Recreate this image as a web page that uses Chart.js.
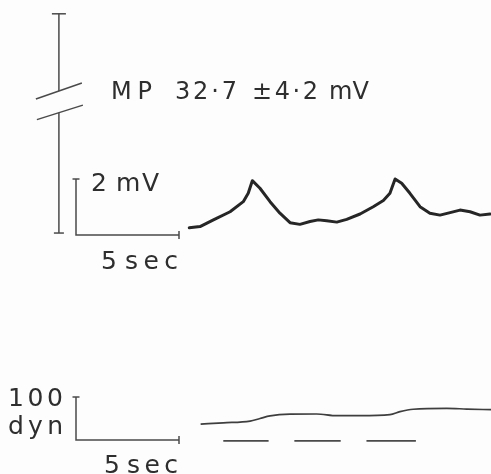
<!DOCTYPE html>
<html>
<head>
<meta charset="utf-8">
<script src="https://cdn.jsdelivr.net/npm/chart.js@4.4.0/dist/chart.umd.min.js"></script>
<style>
  html, body { margin: 0; padding: 0; background: #fdfdfd; }
  #wrap { width: 491px; height: 474px; }
</style>
</head>
<body>
<div id="wrap"><canvas id="trace" width="491" height="474"></canvas></div>
<script>
// time in sec, counted from the left end of the 5 sec scale bars
const mpTime = [5.50, 6.02, 6.67, 7.48, 8.12, 8.36, 8.56, 8.93, 9.42, 9.90, 10.39, 10.87,
  11.36, 11.76, 12.17, 12.66, 13.14, 13.79, 14.43, 14.92, 15.24, 15.49, 15.81, 16.21,
  16.70, 17.18, 17.67, 18.16, 18.64, 19.13, 19.61, 20.10];
// membrane potential, mV above the scale bar baseline
const mpValues = [0.26, 0.30, 0.54, 0.83, 1.19, 1.49, 1.94, 1.67, 1.19, 0.78, 0.44, 0.38,
  0.48, 0.54, 0.51, 0.46, 0.56, 0.75, 1.01, 1.23, 1.49, 2.00, 1.85, 1.49,
  1.01, 0.78, 0.71, 0.80, 0.89, 0.83, 0.71, 0.75];

const forceTime = [6.05, 7.15, 8.45, 8.93, 9.42, 10.39, 11.68, 12.66, 13.79, 15.24, 15.73,
  16.37, 18.00, 18.97, 20.15];
// tension, dyn
const forceValues = [37, 40, 44, 50, 56, 60, 60.5, 56.5, 56.5, 59, 66, 71.5, 73.5, 72, 70.5];

// stimulus marks under the force trace (sec)
const stimStart = [7.15, 10.6, 14.1];
const stimEnd = [9.35, 12.85, 16.5];

const scaleSec = 5;
const scaleMv = 2;
const scaleDyn = 100;

// long MP bar (mV), broken between the two break values
const mpBarTime = -0.83;
const mpBarTop = 7.9;
const mpBarBreak = [5.14, 4.37];
const mpBarBottom = 0.07;

const mpLabel = ['MP', '32·7', '±4·2', 'mV'];

// pixel mapping of the figure
const PX_SEC = 20.6, X0 = 76;
const PX_MV = 28, MV_BASE = 235;
const PX_DYN = 0.43, DYN_BASE = 440;
const W = 491, H = 474;

const stimLevel = -2;
const stimData = [];
stimStart.forEach((s, i) => {
  stimData.push({x: s, y: stimLevel});
  stimData.push({x: stimEnd[i], y: stimLevel});
  stimData.push({x: (stimEnd[i] + (stimStart[i + 1] || stimEnd[i] + 1)) / 2, y: null});
});

const ink = '#262626';
const barInk = '#4a4a4a';

function fitText(ctx, str, x0, x1, base) {
  ctx.letterSpacing = '0px';
  const w = ctx.measureText(str).width;
  const n = [...str].length;
  const sp = n > 1 ? (x1 - x0 - w) / (n - 1) : 0;
  ctx.letterSpacing = sp + 'px';
  ctx.fillText(str, x0, base);
  ctx.letterSpacing = '0px';
}

const decorations = {
  id: 'decorations',
  afterDatasetsDraw(chart) {
    const ctx = chart.ctx;
    const x = chart.scales.x, yV = chart.scales.yV, yF = chart.scales.yF;
    ctx.save();
    ctx.strokeStyle = barInk;
    ctx.lineWidth = 1.5;

    function seg(a, b, c, d) {
      ctx.beginPath();
      ctx.moveTo(a, b);
      ctx.lineTo(c, d);
      ctx.stroke();
    }

    // caps of the scale bars
    const sx0 = x.getPixelForValue(0), sx1 = x.getPixelForValue(scaleSec);
    seg(sx0 - 3.5, yV.getPixelForValue(scaleMv), sx0 + 3.5, yV.getPixelForValue(scaleMv));
    seg(sx1, yV.getPixelForValue(0) - 4, sx1, yV.getPixelForValue(0) + 4);
    seg(sx0 - 3.5, yF.getPixelForValue(scaleDyn), sx0 + 3.5, yF.getPixelForValue(scaleDyn));
    seg(sx1, yF.getPixelForValue(0) - 4, sx1, yF.getPixelForValue(0) + 4);

    // long broken MP bar
    const bx = x.getPixelForValue(mpBarTime);
    const pTop = yV.getPixelForValue(mpBarTop);
    const pB1 = yV.getPixelForValue(mpBarBreak[0]);
    const pB2 = yV.getPixelForValue(mpBarBreak[1]);
    const pBot = yV.getPixelForValue(mpBarBottom);
    seg(bx, pTop, bx, pB1);
    seg(bx, pB2, bx, pBot);
    seg(bx - 7, pTop, bx + 7, pTop);
    seg(bx - 5, pBot, bx + 5, pBot);
    seg(bx - 23, pB1 + 8, bx + 23, pB1 - 8);
    seg(bx - 22, pB2 + 7, bx + 24, pB2 - 7.5);

    // labels
    ctx.fillStyle = '#2e2e2e';
    ctx.textAlign = 'left';
    ctx.textBaseline = 'alphabetic';
    ctx.font = '24px "DejaVu Sans"';
    const mpPos = [[111, 152], [175, 237], [252, 318], [329, 369]];
    mpLabel.forEach((t, i) => fitText(ctx, t, mpPos[i][0], mpPos[i][1], 99));

    ctx.font = '25px "DejaVu Sans"';
    fitText(ctx, String(scaleMv), 91, 106, 191);
    fitText(ctx, 'mV', 116, 159, 191);
    fitText(ctx, String(scaleSec), 101, 116, 269);
    fitText(ctx, 'sec', 125, 178, 269);

    fitText(ctx, String(scaleDyn), 8, 63, 406);
    fitText(ctx, 'dyn', 8, 63, 434);
    fitText(ctx, String(scaleSec), 104, 118, 473);
    fitText(ctx, 'sec', 127, 178, 473);
    ctx.restore();
  }
};

new Chart(document.getElementById('trace'), {
  type: 'scatter',
  data: {
    datasets: [
      {
        data: mpTime.map((t, i) => ({x: t, y: mpValues[i]})),
        yAxisID: 'yV',
        showLine: true,
        borderColor: ink,
        borderWidth: 3,
        pointRadius: 0,
        tension: 0,
        borderJoinStyle: 'round',
        borderCapStyle: 'round'
      },
      {
        data: forceTime.map((t, i) => ({x: t, y: forceValues[i]})),
        yAxisID: 'yF',
        showLine: true,
        borderColor: '#3e3e3e',
        borderWidth: 1.7,
        pointRadius: 0,
        cubicInterpolationMode: 'monotone'
      },
      {
        data: stimData,
        yAxisID: 'yF',
        showLine: true,
        spanGaps: false,
        borderColor: '#4a4a4a',
        borderWidth: 1.6,
        pointRadius: 0
      },
      {
        data: [{x: 0, y: scaleMv}, {x: 0, y: 0}, {x: scaleSec, y: 0}],
        yAxisID: 'yV',
        showLine: true,
        borderColor: barInk,
        borderWidth: 1.5,
        pointRadius: 0
      },
      {
        data: [{x: 0, y: scaleDyn}, {x: 0, y: 0}, {x: scaleSec, y: 0}],
        yAxisID: 'yF',
        showLine: true,
        borderColor: barInk,
        borderWidth: 1.5,
        pointRadius: 0
      }
    ]
  },
  options: {
    responsive: false,
    animation: false,
    devicePixelRatio: 1,
    layout: { padding: 0 },
    plugins: { legend: { display: false }, tooltip: { enabled: false } },
    scales: {
      x: { type: 'linear', display: false, min: -X0 / PX_SEC, max: (W - X0) / PX_SEC },
      yV: { type: 'linear', display: false, position: 'left',
        max: MV_BASE / PX_MV, min: MV_BASE / PX_MV - H / PX_MV },
      yF: { type: 'linear', display: false, position: 'right',
        max: DYN_BASE / PX_DYN, min: DYN_BASE / PX_DYN - H / PX_DYN }
    }
  },
  plugins: [decorations]
});
</script>
</body>
</html>
